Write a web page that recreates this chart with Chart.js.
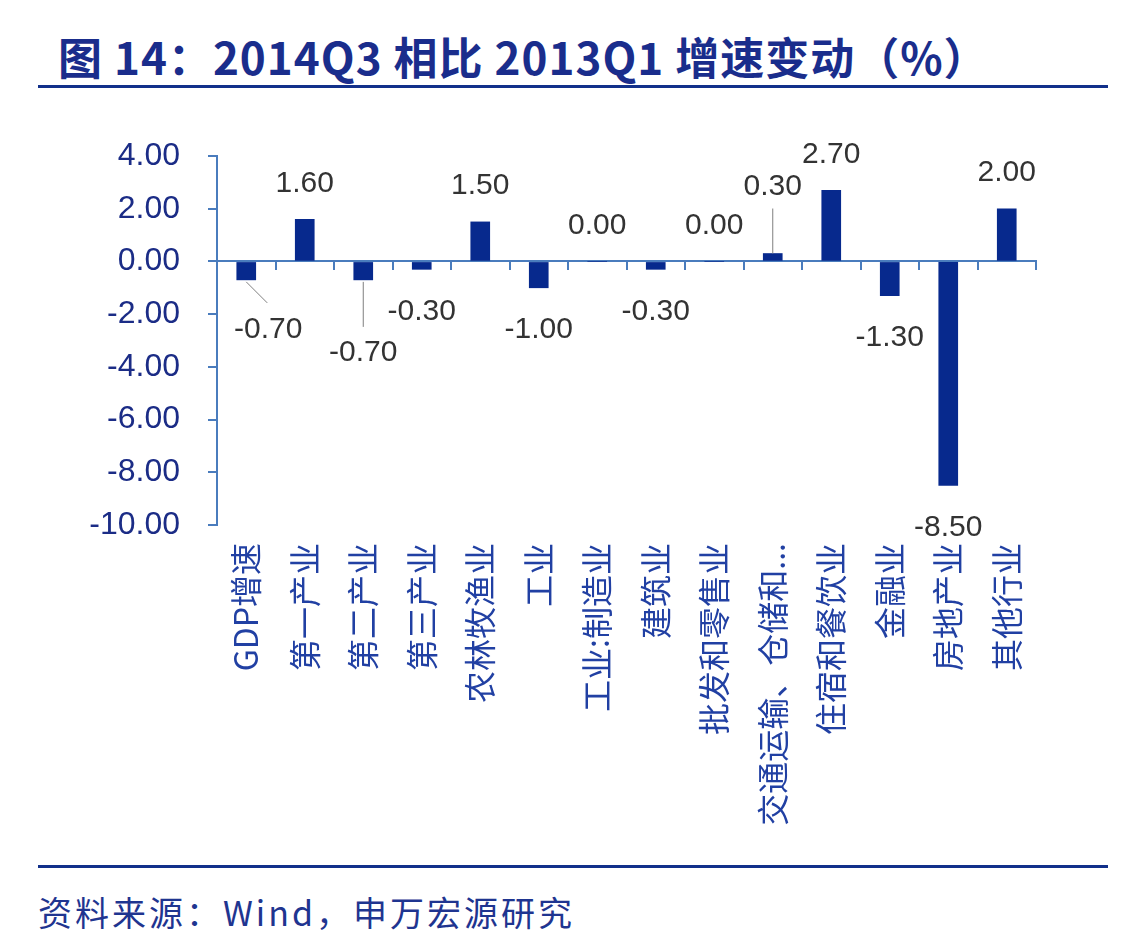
<!DOCTYPE html>
<html>
<head>
<meta charset="utf-8">
<script src="https://cdn.jsdelivr.net/npm/chart.js@4.4.1/dist/chart.umd.min.js"></script>
<style>
  body { margin: 0; background: #fff; width: 1136px; height: 946px; position: relative; overflow: hidden; }
  #title { position: absolute; left: 58px; top: 33px; font: bold 44px/46px "Noto Sans CJK SC", sans-serif; letter-spacing: 1px; color: #1a2d8c; white-space: nowrap; }
  .rule { position: absolute; left: 38px; width: 1070px; height: 3px; background: #12308a; }
  #src { position: absolute; left: 38px; top: 893px; font: 34px/38px "Noto Sans CJK SC", sans-serif; letter-spacing: 3px; color: #1f3590; white-space: nowrap; }
  #box { position: absolute; left: 0; top: 100px; }
</style>
</head>
<body>
<div id="title">图 14：2014Q3 相比 2013Q1 增速变动（%）</div>
<div class="rule" style="top:85px"></div>
<div id="box"><canvas id="chart" width="1136" height="750"></canvas></div>
<div class="rule" style="top:865px"></div>
<div id="src">资料来源：Wind，申万宏源研究</div>

<script>
var categories = ["GDP增速", "第一产业", "第二产业", "第三产业", "农林牧渔业", "工业", "工业:制造业",
                  "建筑业", "批发和零售业", "交通运输、仓储和...", "住宿和餐饮业", "金融业", "房地产业", "其他行业"];
var changes = [-0.70, 1.60, -0.70, -0.30, 1.50, -1.00, 0.00, -0.30, 0.00, 0.30, 2.70, -1.30, -8.50, 2.00];
var yTicks = [4, 2, 0, -2, -4, -6, -8, -10];

var axisColor = "#4a7cbd";
var navy = "#1b2c86";

// value labels, a few moved aside with a leader line like the original
var valueLabels = {
  id: "valueLabels",
  afterDatasetsDraw: function(chart, args, opts) {
    var ctx = chart.ctx;
    var meta = chart.getDatasetMeta(0);
    ctx.save();
    ctx.font = "30px 'Liberation Sans'";
    ctx.fillStyle = "#333";
    ctx.textAlign = "center";
    ctx.textBaseline = "middle";
    meta.data.forEach(function(bar, i) {
      var v = changes[i];
      var x = bar.x;
      var y = v >= 0 ? bar.y - 36 : bar.y + 42;
      var s = opts.shifts[i];
      if (s) {
        x += s[0];
        y += s[1];
        ctx.strokeStyle = "#7f7f7f";
        ctx.lineWidth = 1;
        ctx.beginPath();
        if (v >= 0) {
          ctx.moveTo(bar.x, bar.y);
          ctx.lineTo(x, y + 22);
        } else if (s[0] !== 0) {
          ctx.moveTo(bar.x, bar.y + 2);
          ctx.lineTo(x - 1, y - 27);
        } else {
          ctx.moveTo(bar.x, bar.y + 2);
          ctx.lineTo(x, y - 26);
        }
        ctx.stroke();
      }
      ctx.fillText(v.toFixed(2), x, y);
    });
    ctx.restore();
  }
};

var ctx = document.getElementById("chart");

var chart = new Chart(ctx, {
  type: "bar",
  data: {
    labels: categories,
    datasets: [{
      data: changes,
      backgroundColor: "#07298d",
      barThickness: 19
    }]
  },
  options: {
    responsive: false,
    animation: false,
    devicePixelRatio: 1,
    layout: { padding: { top: 56, right: 100, bottom: 0, left: 0 } },
    plugins: {
      legend: { display: false },
      tooltip: { enabled: false },
      valueLabels: { shifts: { 0: [22, 8], 2: [0, 31], 9: [0, -31] } }
    },
    scales: {
      x: {
        position: { y: 0 },
        ticks: { display: false },
        grid: { display: true, drawOnChartArea: false, drawTicks: true, tickLength: 8, offset: true, color: axisColor, lineWidth: 2 },
        border: { color: axisColor, width: 2 }
      },
      x2: {
        type: "category",
        position: "bottom",
        labels: categories,
        grid: { display: false, drawTicks: false },
        border: { display: false },
        ticks: {
          autoSkip: false,
          minRotation: 90,
          maxRotation: 90,
          padding: 18,
          color: "#2140a3",
          font: { family: "'Noto Sans CJK SC'", size: 32 }
        },
        afterFit: function(axis) { axis.height = 325; }
      },
      y: {
        min: -10,
        max: 4,
        afterBuildTicks: function(axis) {
          axis.ticks = yTicks.map(function(v) { return { value: v }; });
        },
        ticks: {
          color: navy,
          padding: 28,
          font: { family: "'Liberation Sans'", size: 32 },
          callback: function(v) { return Number(v).toFixed(2); }
        },
        grid: { drawOnChartArea: false, tickLength: 9, color: axisColor, lineWidth: 2 },
        border: { color: axisColor, width: 2 },
        afterFit: function(axis) { axis.width = 217; }
      }
    }
  },
  plugins: [valueLabels]
});
</script>
</body>
</html>
